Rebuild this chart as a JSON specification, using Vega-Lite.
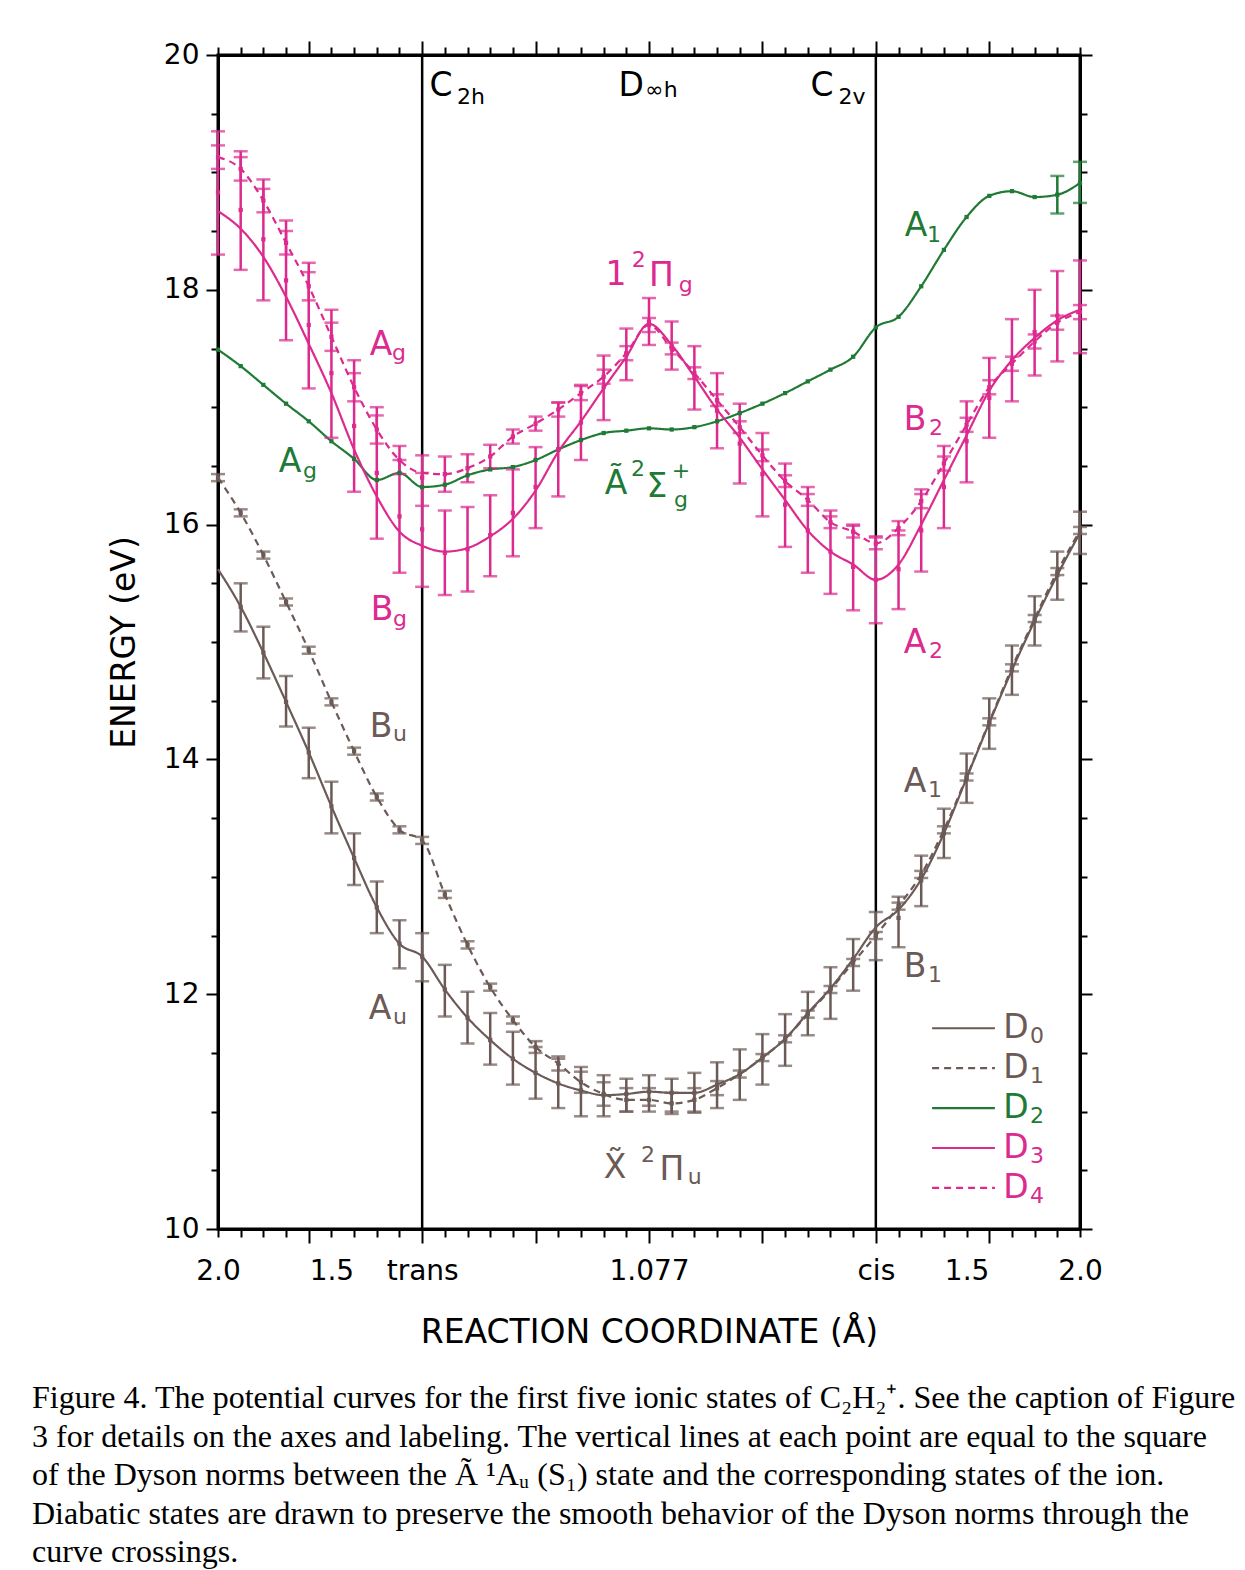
{
  "$schema": "https://vega.github.io/schema/vega-lite/v6.json",
  "width": 862,
  "height": 1174,
  "autosize": {"type": "none"},
  "padding": {"left": 218, "top": 55, "right": 165, "bottom": 341},
  "background": "white",
  "config": {
    "view": {"stroke": "black", "strokeWidth": 3},
    "axis": {"grid": false, "domainColor": "black", "domainWidth": 3, "tickColor": "black", "tickWidth": 2, "labelColor": "black", "titleColor": "black", "labelFont": "DejaVu Sans", "titleFont": "DejaVu Sans", "labelFontSize": 28, "titleFontSize": 33, "titleFontWeight": "normal", "labelOverlap": false, "labelFlush": false, "labelBound": false}
  },
  "title": {
    "text": [
      "Figure 4. The potential curves for the first five ionic states of C₂H₂⁺. See the caption of Figure",
      "3 for details on the axes and labeling. The vertical lines at each point are equal to the square",
      "of the Dyson norms between the Ã ¹Aᵤ (S₁) state and the corresponding states of the ion.",
      "Diabatic states are drawn to preserve the smooth behavior of the Dyson norms through the",
      "curve crossings."
    ],
    "orient": "bottom",
    "anchor": "start",
    "frame": "group",
    "align": "left",
    "dx": -186,
    "offset": 34,
    "font": "Liberation Serif",
    "fontSize": 32,
    "fontWeight": "normal",
    "lineHeight": 38.5,
    "color": "black"
  },
  "datasets": {
    "curves": [
      {"s":"D0","x":0,"y":15.62},
      {"s":"D0","x":1,"y":15.30,"c":15.30,"lo":15.09,"hi":15.50},
      {"s":"D0","x":2,"y":14.91,"c":14.91,"lo":14.69,"hi":15.13},
      {"s":"D0","x":3,"y":14.49,"c":14.49,"lo":14.28,"hi":14.71},
      {"s":"D0","x":4,"y":14.06,"c":14.06,"lo":13.84,"hi":14.27},
      {"s":"D0","x":5,"y":13.60,"c":13.60,"lo":13.37,"hi":13.81},
      {"s":"D0","x":6,"y":13.16,"c":13.16,"lo":12.93,"hi":13.37},
      {"s":"D0","x":7,"y":12.74,"c":12.74,"lo":12.52,"hi":12.96},
      {"s":"D0","x":8,"y":12.43,"c":12.43,"lo":12.22,"hi":12.63},
      {"s":"D0","x":9,"y":12.32,"c":12.32,"lo":12.11,"hi":12.52},
      {"s":"D0","x":10,"y":12.04,"c":12.04,"lo":11.81,"hi":12.25},
      {"s":"D0","x":11,"y":11.80,"c":11.80,"lo":11.58,"hi":12.02},
      {"s":"D0","x":12,"y":11.61,"c":11.61,"lo":11.40,"hi":11.84},
      {"s":"D0","x":13,"y":11.45,"c":11.45,"lo":11.23,"hi":11.68},
      {"s":"D0","x":14,"y":11.33,"c":11.33,"lo":11.11,"hi":11.55},
      {"s":"D0","x":15,"y":11.24,"c":11.24,"lo":11.03,"hi":11.45},
      {"s":"D0","x":16,"y":11.18,"c":11.18,"lo":10.96,"hi":11.38},
      {"s":"D0","x":17,"y":11.14,"c":11.14,"lo":10.96,"hi":11.31},
      {"s":"D0","x":18,"y":11.15,"c":11.15,"lo":11.00,"hi":11.28},
      {"s":"D0","x":19,"y":11.17,"c":11.17,"lo":11.05,"hi":11.31},
      {"s":"D0","x":20,"y":11.16,"c":11.16,"lo":11.00,"hi":11.28},
      {"s":"D0","x":21,"y":11.16,"c":11.16,"lo":10.99,"hi":11.33},
      {"s":"D0","x":22,"y":11.23,"c":11.23,"lo":11.03,"hi":11.42},
      {"s":"D0","x":23,"y":11.32,"c":11.32,"lo":11.10,"hi":11.53},
      {"s":"D0","x":24,"y":11.46,"c":11.46,"lo":11.23,"hi":11.66},
      {"s":"D0","x":25,"y":11.62,"c":11.62,"lo":11.39,"hi":11.83},
      {"s":"D0","x":26,"y":11.84,"c":11.84,"lo":11.65,"hi":12.02},
      {"s":"D0","x":27,"y":12.05,"c":12.05,"lo":11.79,"hi":12.23},
      {"s":"D0","x":28,"y":12.30,"c":12.30,"lo":12.03,"hi":12.47},
      {"s":"D0","x":29,"y":12.57,"c":12.50,"lo":12.29,"hi":12.70},
      {"s":"D0","x":30,"y":12.72,"c":12.65,"lo":12.40,"hi":12.83},
      {"s":"D0","x":31,"y":12.98,"c":12.97,"lo":12.75,"hi":13.18},
      {"s":"D0","x":32,"y":13.37,"c":13.37,"lo":13.16,"hi":13.58},
      {"s":"D0","x":33,"y":13.84,"c":13.84,"lo":13.63,"hi":14.05},
      {"s":"D0","x":34,"y":14.31,"c":14.31,"lo":14.09,"hi":14.52},
      {"s":"D0","x":35,"y":14.76,"c":14.76,"lo":14.55,"hi":14.97},
      {"s":"D0","x":36,"y":15.18,"c":15.18,"lo":14.97,"hi":15.39},
      {"s":"D0","x":37,"y":15.57,"c":15.57,"lo":15.36,"hi":15.77},
      {"s":"D0","x":38,"y":15.93,"c":15.93,"lo":15.75,"hi":16.11},

      {"s":"D1","x":0,"y":16.40,"c":16.40,"lo":16.37,"hi":16.43},
      {"s":"D1","x":1,"y":16.10,"c":16.10,"lo":16.07,"hi":16.13},
      {"s":"D1","x":2,"y":15.74,"c":15.74,"lo":15.71,"hi":15.77},
      {"s":"D1","x":3,"y":15.34,"c":15.34,"lo":15.31,"hi":15.37},
      {"s":"D1","x":4,"y":14.93,"c":14.93,"lo":14.90,"hi":14.96},
      {"s":"D1","x":5,"y":14.49,"c":14.49,"lo":14.46,"hi":14.52},
      {"s":"D1","x":6,"y":14.07,"c":14.07,"lo":14.04,"hi":14.10},
      {"s":"D1","x":7,"y":13.68,"c":13.68,"lo":13.65,"hi":13.71},
      {"s":"D1","x":8,"y":13.40,"c":13.40,"lo":13.37,"hi":13.43},
      {"s":"D1","x":9,"y":13.31,"c":13.31,"lo":13.28,"hi":13.34},
      {"s":"D1","x":10,"y":12.85,"c":12.85,"lo":12.82,"hi":12.88},
      {"s":"D1","x":11,"y":12.42,"c":12.42,"lo":12.39,"hi":12.45},
      {"s":"D1","x":12,"y":12.06,"c":12.06,"lo":12.03,"hi":12.09},
      {"s":"D1","x":13,"y":11.78,"c":11.78,"lo":11.75,"hi":11.81},
      {"s":"D1","x":14,"y":11.55,"c":11.55,"lo":11.50,"hi":11.60},
      {"s":"D1","x":15,"y":11.41,"c":11.41,"lo":11.35,"hi":11.47},
      {"s":"D1","x":16,"y":11.25,"c":11.25,"lo":11.16,"hi":11.34},
      {"s":"D1","x":17,"y":11.15,"c":11.15,"lo":11.05,"hi":11.25},
      {"s":"D1","x":18,"y":11.10,"c":11.10,"lo":11.00,"hi":11.20},
      {"s":"D1","x":19,"y":11.10,"c":11.10,"lo":11.00,"hi":11.20},
      {"s":"D1","x":20,"y":11.07,"c":11.07,"lo":10.98,"hi":11.16},
      {"s":"D1","x":21,"y":11.10,"c":11.10,"lo":11.00,"hi":11.20},
      {"s":"D1","x":22,"y":11.20,"c":11.20,"lo":11.14,"hi":11.26},
      {"s":"D1","x":23,"y":11.32,"c":11.32,"lo":11.29,"hi":11.35},
      {"s":"D1","x":24,"y":11.46,"c":11.46,"lo":11.43,"hi":11.49},
      {"s":"D1","x":25,"y":11.62,"c":11.62,"lo":11.59,"hi":11.65},
      {"s":"D1","x":26,"y":11.83,"c":11.83,"lo":11.80,"hi":11.86},
      {"s":"D1","x":27,"y":12.04,"c":12.04,"lo":12.01,"hi":12.07},
      {"s":"D1","x":28,"y":12.27,"c":12.27,"lo":12.24,"hi":12.30},
      {"s":"D1","x":29,"y":12.50,"c":12.50,"lo":12.47,"hi":12.53},
      {"s":"D1","x":30,"y":12.75,"c":12.75,"lo":12.72,"hi":12.78},
      {"s":"D1","x":31,"y":13.02,"c":13.02,"lo":12.99,"hi":13.05},
      {"s":"D1","x":32,"y":13.40,"c":13.40,"lo":13.37,"hi":13.43},
      {"s":"D1","x":33,"y":13.85,"c":13.85,"lo":13.82,"hi":13.88},
      {"s":"D1","x":34,"y":14.32,"c":14.32,"lo":14.29,"hi":14.35},
      {"s":"D1","x":35,"y":14.78,"c":14.78,"lo":14.75,"hi":14.81},
      {"s":"D1","x":36,"y":15.20,"c":15.20,"lo":15.17,"hi":15.23},
      {"s":"D1","x":37,"y":15.60,"c":15.60,"lo":15.57,"hi":15.63},
      {"s":"D1","x":38,"y":15.95,"c":15.95,"lo":15.92,"hi":15.98},

      {"s":"D2","x":0,"y":17.49,"c":17.49},
      {"s":"D2","x":1,"y":17.35,"c":17.35},
      {"s":"D2","x":2,"y":17.19,"c":17.19},
      {"s":"D2","x":3,"y":17.03,"c":17.03},
      {"s":"D2","x":4,"y":16.88,"c":16.88},
      {"s":"D2","x":5,"y":16.71,"c":16.71},
      {"s":"D2","x":6,"y":16.56,"c":16.56},
      {"s":"D2","x":7,"y":16.38,"c":16.38},
      {"s":"D2","x":8,"y":16.44,"c":16.44},
      {"s":"D2","x":9,"y":16.32,"c":16.32},
      {"s":"D2","x":10,"y":16.34,"c":16.34},
      {"s":"D2","x":11,"y":16.42,"c":16.42},
      {"s":"D2","x":12,"y":16.47,"c":16.47},
      {"s":"D2","x":13,"y":16.49,"c":16.49},
      {"s":"D2","x":14,"y":16.55,"c":16.55},
      {"s":"D2","x":15,"y":16.64,"c":16.64},
      {"s":"D2","x":16,"y":16.72,"c":16.72},
      {"s":"D2","x":17,"y":16.78,"c":16.78},
      {"s":"D2","x":18,"y":16.80,"c":16.80},
      {"s":"D2","x":19,"y":16.82,"c":16.82},
      {"s":"D2","x":20,"y":16.81,"c":16.81},
      {"s":"D2","x":21,"y":16.83,"c":16.83},
      {"s":"D2","x":22,"y":16.88,"c":16.88},
      {"s":"D2","x":23,"y":16.95,"c":16.95},
      {"s":"D2","x":24,"y":17.03,"c":17.03},
      {"s":"D2","x":25,"y":17.12,"c":17.12},
      {"s":"D2","x":26,"y":17.22,"c":17.22},
      {"s":"D2","x":27,"y":17.32,"c":17.32},
      {"s":"D2","x":28,"y":17.43,"c":17.43},
      {"s":"D2","x":29,"y":17.68,"c":17.68},
      {"s":"D2","x":30,"y":17.77,"c":17.77},
      {"s":"D2","x":31,"y":18.03,"c":18.03},
      {"s":"D2","x":32,"y":18.34,"c":18.34},
      {"s":"D2","x":33,"y":18.62,"c":18.62},
      {"s":"D2","x":34,"y":18.80,"c":18.80},
      {"s":"D2","x":35,"y":18.84,"c":18.84},
      {"s":"D2","x":36,"y":18.79,"c":18.79},
      {"s":"D2","x":37,"y":18.81,"c":18.81,"lo":18.65,"hi":18.97},
      {"s":"D2","x":38,"y":18.91,"c":18.91,"lo":18.74,"hi":19.09},

      {"s":"D3","x":0,"y":18.67,"c":18.83,"lo":18.30,"hi":19.35},
      {"s":"D3","x":1,"y":18.52,"c":18.68,"lo":18.17,"hi":19.18},
      {"s":"D3","x":2,"y":18.28,"c":18.43,"lo":17.91,"hi":18.94},
      {"s":"D3","x":3,"y":17.94,"c":18.08,"lo":17.57,"hi":18.59},
      {"s":"D3","x":4,"y":17.54,"c":17.70,"lo":17.16,"hi":18.23},
      {"s":"D3","x":5,"y":17.12,"c":17.29,"lo":16.74,"hi":17.83},
      {"s":"D3","x":6,"y":16.64,"c":16.84,"lo":16.28,"hi":17.40},
      {"s":"D3","x":7,"y":16.24,"c":16.44,"lo":15.88,"hi":17.00},
      {"s":"D3","x":8,"y":15.94,"c":16.07,"lo":15.59,"hi":16.55},
      {"s":"D3","x":9,"y":15.82,"c":15.96,"lo":15.47,"hi":16.44},
      {"s":"D3","x":10,"y":15.77,"c":15.76,"lo":15.40,"hi":16.12},
      {"s":"D3","x":11,"y":15.80,"c":15.79,"lo":15.43,"hi":16.15},
      {"s":"D3","x":12,"y":15.90,"c":15.91,"lo":15.56,"hi":16.25},
      {"s":"D3","x":13,"y":16.05,"c":16.10,"lo":15.73,"hi":16.47},
      {"s":"D3","x":14,"y":16.29,"c":16.32,"lo":15.97,"hi":16.66},
      {"s":"D3","x":15,"y":16.62,"c":16.64,"lo":16.24,"hi":17.04},
      {"s":"D3","x":16,"y":16.88,"c":16.87,"lo":16.55,"hi":17.19},
      {"s":"D3","x":17,"y":17.16,"c":17.17,"lo":16.89,"hi":17.44},
      {"s":"D3","x":18,"y":17.43,"c":17.45,"lo":17.23,"hi":17.67},
      {"s":"D3","x":19,"y":17.71,"c":17.73,"lo":17.53,"hi":17.93},
      {"s":"D3","x":20,"y":17.53,"c":17.52,"lo":17.32,"hi":17.73},
      {"s":"D3","x":21,"y":17.26,"c":17.25,"lo":16.98,"hi":17.52},
      {"s":"D3","x":22,"y":16.98,"c":16.97,"lo":16.65,"hi":17.29},
      {"s":"D3","x":23,"y":16.74,"c":16.69,"lo":16.35,"hi":17.03},
      {"s":"D3","x":24,"y":16.47,"c":16.43,"lo":16.07,"hi":16.78},
      {"s":"D3","x":25,"y":16.21,"c":16.17,"lo":15.81,"hi":16.52},
      {"s":"D3","x":26,"y":15.95,"c":15.95,"lo":15.59,"hi":16.32},
      {"s":"D3","x":27,"y":15.77,"c":15.77,"lo":15.41,"hi":16.12},
      {"s":"D3","x":28,"y":15.66,"c":15.64,"lo":15.27,"hi":16.00},
      {"s":"D3","x":29,"y":15.53,"c":15.53,"lo":15.16,"hi":15.90},
      {"s":"D3","x":30,"y":15.66,"c":15.62,"lo":15.28,"hi":15.95},
      {"s":"D3","x":31,"y":16.00,"c":15.95,"lo":15.60,"hi":16.30},
      {"s":"D3","x":32,"y":16.38,"c":16.32,"lo":15.97,"hi":16.67},
      {"s":"D3","x":33,"y":16.76,"c":16.71,"lo":16.36,"hi":17.05},
      {"s":"D3","x":34,"y":17.14,"c":17.08,"lo":16.74,"hi":17.42},
      {"s":"D3","x":35,"y":17.40,"c":17.40,"lo":17.05,"hi":17.75},
      {"s":"D3","x":36,"y":17.59,"c":17.64,"lo":17.27,"hi":18.00},
      {"s":"D3","x":37,"y":17.74,"c":17.78,"lo":17.39,"hi":18.16},
      {"s":"D3","x":38,"y":17.83,"c":17.86,"lo":17.46,"hi":18.25},

      {"s":"D4","x":0,"y":19.13,"c":19.13,"lo":19.03,"hi":19.23},
      {"s":"D4","x":1,"y":19.03,"c":19.03,"lo":18.93,"hi":19.13},
      {"s":"D4","x":2,"y":18.76,"c":18.76,"lo":18.66,"hi":18.86},
      {"s":"D4","x":3,"y":18.40,"c":18.40,"lo":18.30,"hi":18.50},
      {"s":"D4","x":4,"y":18.03,"c":18.03,"lo":17.91,"hi":18.15},
      {"s":"D4","x":5,"y":17.60,"c":17.60,"lo":17.48,"hi":17.72},
      {"s":"D4","x":6,"y":17.17,"c":17.17,"lo":17.05,"hi":17.29},
      {"s":"D4","x":7,"y":16.81,"c":16.81,"lo":16.69,"hi":16.93},
      {"s":"D4","x":8,"y":16.55,"c":16.55,"lo":16.43,"hi":16.67},
      {"s":"D4","x":9,"y":16.44,"c":16.40,"lo":16.16,"hi":16.59},
      {"s":"D4","x":10,"y":16.43,"c":16.43,"lo":16.28,"hi":16.58},
      {"s":"D4","x":11,"y":16.48,"c":16.48,"lo":16.36,"hi":16.60},
      {"s":"D4","x":12,"y":16.58,"c":16.58,"lo":16.48,"hi":16.68},
      {"s":"D4","x":13,"y":16.75,"c":16.75,"lo":16.69,"hi":16.81},
      {"s":"D4","x":14,"y":16.86,"c":16.86,"lo":16.80,"hi":16.92},
      {"s":"D4","x":15,"y":16.98,"c":16.98,"lo":16.92,"hi":17.04},
      {"s":"D4","x":16,"y":17.12,"c":17.12,"lo":17.06,"hi":17.18},
      {"s":"D4","x":17,"y":17.26,"c":17.26,"lo":17.20,"hi":17.32},
      {"s":"D4","x":18,"y":17.46,"c":17.46,"lo":17.40,"hi":17.52},
      {"s":"D4","x":19,"y":17.70,"c":17.70,"lo":17.64,"hi":17.76},
      {"s":"D4","x":20,"y":17.50,"c":17.50,"lo":17.45,"hi":17.55},
      {"s":"D4","x":21,"y":17.29,"c":17.29,"lo":17.24,"hi":17.34},
      {"s":"D4","x":22,"y":17.06,"c":17.06,"lo":17.01,"hi":17.11},
      {"s":"D4","x":23,"y":16.83,"c":16.83,"lo":16.78,"hi":16.88},
      {"s":"D4","x":24,"y":16.59,"c":16.59,"lo":16.54,"hi":16.64},
      {"s":"D4","x":25,"y":16.37,"c":16.37,"lo":16.32,"hi":16.42},
      {"s":"D4","x":26,"y":16.21,"c":16.21,"lo":16.16,"hi":16.26},
      {"s":"D4","x":27,"y":16.02,"c":16.02,"lo":15.97,"hi":16.07},
      {"s":"D4","x":28,"y":15.94,"c":15.94,"lo":15.89,"hi":15.99},
      {"s":"D4","x":29,"y":15.84,"c":15.84,"lo":15.79,"hi":15.89},
      {"s":"D4","x":30,"y":15.97,"c":15.97,"lo":15.91,"hi":16.03},
      {"s":"D4","x":31,"y":16.20,"c":16.20,"lo":16.14,"hi":16.26},
      {"s":"D4","x":32,"y":16.52,"c":16.52,"lo":16.46,"hi":16.58},
      {"s":"D4","x":33,"y":16.85,"c":16.85,"lo":16.79,"hi":16.91},
      {"s":"D4","x":34,"y":17.17,"c":17.17,"lo":17.11,"hi":17.23},
      {"s":"D4","x":35,"y":17.37,"c":17.37,"lo":17.31,"hi":17.43},
      {"s":"D4","x":36,"y":17.56,"c":17.56,"lo":17.50,"hi":17.62},
      {"s":"D4","x":37,"y":17.72,"c":17.72,"lo":17.66,"hi":17.78},
      {"s":"D4","x":38,"y":17.81,"c":17.81,"lo":17.75,"hi":17.87}
    ],
    "labels": [
      {"t":"C","x":9.83,"y":19.74,"s":"K","k":"m"},
      {"t":"2h","x":11.15,"y":19.64,"s":"K","k":"s"},
      {"t":"D","x":18.21,"y":19.74,"s":"K","k":"m"},
      {"t":"∞h","x":19.55,"y":19.70,"s":"K","k":"s"},
      {"t":"C","x":26.63,"y":19.74,"s":"K","k":"m"},
      {"t":"2v","x":27.95,"y":19.64,"s":"K","k":"s"},
      {"t":"A","x":30.77,"y":18.54,"s":"D2","k":"m"},
      {"t":"1","x":31.56,"y":18.47,"s":"D2","k":"s"},
      {"t":"1","x":17.55,"y":18.13,"s":"D3","k":"m"},
      {"t":"2","x":18.55,"y":18.25,"s":"D3","k":"s"},
      {"t":"Π","x":19.55,"y":18.12,"s":"D3","k":"m"},
      {"t":"g","x":20.62,"y":18.04,"s":"D3","k":"s"},
      {"t":"A","x":7.19,"y":17.53,"s":"D3","k":"m"},
      {"t":"g","x":7.98,"y":17.46,"s":"D3","k":"s"},
      {"t":"A","x":3.17,"y":16.53,"s":"D2","k":"m"},
      {"t":"g","x":4.06,"y":16.46,"s":"D2","k":"s"},
      {"t":"B","x":30.73,"y":16.89,"s":"D3","k":"m"},
      {"t":"2","x":31.65,"y":16.82,"s":"D3","k":"s"},
      {"t":"Ã","x":17.55,"y":16.35,"s":"D2","k":"m"},
      {"t":"2","x":18.52,"y":16.47,"s":"D2","k":"s"},
      {"t":"Σ","x":19.35,"y":16.32,"s":"D2","k":"m"},
      {"t":"+","x":20.41,"y":16.46,"s":"D2","k":"s"},
      {"t":"g","x":20.41,"y":16.21,"s":"D2","k":"s"},
      {"t":"B","x":7.23,"y":15.27,"s":"D3","k":"m"},
      {"t":"g","x":8.02,"y":15.20,"s":"D3","k":"s"},
      {"t":"A","x":30.73,"y":14.99,"s":"D3","k":"m"},
      {"t":"2","x":31.65,"y":14.92,"s":"D3","k":"s"},
      {"t":"B","x":7.19,"y":14.28,"s":"D0","k":"m"},
      {"t":"u","x":8.02,"y":14.22,"s":"D0","k":"s"},
      {"t":"A","x":30.73,"y":13.81,"s":"D0","k":"m"},
      {"t":"1","x":31.61,"y":13.74,"s":"D0","k":"s"},
      {"t":"B","x":30.73,"y":12.23,"s":"D0","k":"m"},
      {"t":"1","x":31.61,"y":12.16,"s":"D0","k":"s"},
      {"t":"A","x":7.14,"y":11.87,"s":"D0","k":"m"},
      {"t":"u","x":8.02,"y":11.81,"s":"D0","k":"s"},
      {"t":"X̃","x":17.50,"y":10.52,"s":"D0","k":"m"},
      {"t":"2","x":18.96,"y":10.63,"s":"D0","k":"s"},
      {"t":"Π","x":20.01,"y":10.50,"s":"D0","k":"m"},
      {"t":"u","x":21.02,"y":10.44,"s":"D0","k":"s"},
      {"t":"D","x":35.18,"y":11.71,"s":"D0","k":"m"},
      {"t":"0","x":36.10,"y":11.64,"s":"D0","k":"s"},
      {"t":"D","x":35.18,"y":11.37,"s":"D1","k":"m"},
      {"t":"1","x":36.10,"y":11.30,"s":"D1","k":"s"},
      {"t":"D","x":35.18,"y":11.03,"s":"D2","k":"m"},
      {"t":"2","x":36.10,"y":10.96,"s":"D2","k":"s"},
      {"t":"D","x":35.18,"y":10.69,"s":"D3","k":"m"},
      {"t":"3","x":36.10,"y":10.62,"s":"D3","k":"s"},
      {"t":"D","x":35.18,"y":10.35,"s":"D4","k":"m"},
      {"t":"4","x":36.10,"y":10.28,"s":"D4","k":"s"}
    ],
    "legend": [
      {"s":"D0","x":31.48,"x2":34.25,"y":11.71},
      {"s":"D1","x":31.48,"x2":34.25,"y":11.37},
      {"s":"D2","x":31.48,"x2":34.25,"y":11.03},
      {"s":"D3","x":31.48,"x2":34.25,"y":10.69},
      {"s":"D4","x":31.48,"x2":34.25,"y":10.35}
    ],
    "vlines": [{"x":9},{"x":29}]
  },
  "resolve": {"axis": {"x": "independent", "y": "independent"}},
  "layer": [
    {
      "data": {"name": "vlines"},
      "mark": {"type": "rule", "color": "black", "strokeWidth": 2.5},
      "encoding": {
        "x": {"field": "x", "type": "quantitative", "axis": null, "scale": {"domain": [0, 38], "nice": false, "zero": false}}
      }
    },
    {
      "data": {"name": "curves"},
      "mark": {"type": "line", "interpolate": "monotone", "strokeWidth": 2.2, "clip": false},
      "encoding": {
        "x": {"field": "x", "type": "quantitative", "scale": {"domain": [0, 38], "nice": false, "zero": false},
          "axis": {"orient": "bottom", "values": [0,1,2,3,4,5,6,7,8,9,10,11,12,13,14,15,16,17,18,19,20,21,22,23,24,25,26,27,28,29,30,31,32,33,34,35,36,37,38],
            "tickSize": {"condition": {"test": "(datum.value + 1) % 5 == 0", "value": 14}, "value": 8},
            "labelPadding": {"condition": {"test": "(datum.value + 1) % 5 == 0", "value": 14}, "value": 20},
            "labelExpr": "datum.value == 0 ? '2.0' : datum.value == 5 ? '1.5' : datum.value == 9 ? 'trans' : datum.value == 19 ? '1.077' : datum.value == 29 ? 'cis' : datum.value == 33 ? '1.5' : datum.value == 38 ? '2.0' : ''",
            "title": "REACTION COORDINATE  (Å)", "titlePadding": 31}},
        "y": {"field": "y", "type": "quantitative", "scale": {"domain": [10, 20], "nice": false, "zero": false},
          "axis": {"orient": "left", "values": [10,10.5,11,11.5,12,12.5,13,13.5,14,14.5,15,15.5,16,16.5,17,17.5,18,18.5,19,19.5,20],
            "tickSize": {"condition": {"test": "datum.value % 2 == 0", "value": 12}, "value": 7},
            "labelExpr": "datum.value % 2 == 0 ? format(datum.value, 'd') : ''",
            "labelPadding": 7, "title": "ENERGY (eV)", "titlePadding": 22}},
        "color": {"field": "s", "type": "nominal", "legend": null, "scale": {"domain": ["D0","D1","D2","D3","D4","K"], "range": ["#6b5a56","#6b5a56","#1f7a35","#dc2a8e","#dc2a8e","#000000"]}},
        "strokeDash": {"field": "s", "type": "nominal", "legend": null, "scale": {"domain": ["D0","D1","D2","D3","D4"], "range": [[1,0],[7,5],[1,0],[1,0],[7,5]]}},
        "detail": {"field": "s"}
      }
    },
    {
      "data": {"name": "curves"},
      "transform": [{"filter": "isValid(datum.lo)"}],
      "mark": {"type": "rule", "strokeWidth": 2.5},
      "encoding": {
        "x": {"field": "x", "type": "quantitative", "axis": null},
        "y": {"field": "lo", "type": "quantitative", "axis": null},
        "y2": {"field": "hi"},
        "color": {"field": "s", "type": "nominal", "legend": null}
      }
    },
    {
      "data": {"name": "curves"},
      "transform": [{"filter": "isValid(datum.lo)"}],
      "mark": {"type": "tick", "orient": "horizontal", "size": 14, "thickness": 2.5},
      "encoding": {
        "x": {"field": "x", "type": "quantitative", "axis": null},
        "y": {"field": "lo", "type": "quantitative", "axis": null},
        "color": {"field": "s", "type": "nominal", "legend": null}
      }
    },
    {
      "data": {"name": "curves"},
      "transform": [{"filter": "isValid(datum.hi)"}],
      "mark": {"type": "tick", "orient": "horizontal", "size": 14, "thickness": 2.5},
      "encoding": {
        "x": {"field": "x", "type": "quantitative", "axis": null},
        "y": {"field": "hi", "type": "quantitative", "axis": null},
        "color": {"field": "s", "type": "nominal", "legend": null}
      }
    },
    {
      "data": {"name": "curves"},
      "transform": [{"filter": "isValid(datum.c)"}],
      "mark": {"type": "point", "shape": "square", "filled": true, "size": 18, "opacity": 1},
      "encoding": {
        "x": {"field": "x", "type": "quantitative", "axis": null},
        "y": {"field": "c", "type": "quantitative", "axis": null},
        "color": {"field": "s", "type": "nominal", "legend": null}
      }
    },
    {
      "data": {"name": "legend"},
      "mark": {"type": "rule", "strokeWidth": 2.2},
      "encoding": {
        "x": {"field": "x", "type": "quantitative",
          "axis": {"orient": "top", "values": [0,1,2,3,4,5,6,7,8,9,10,11,12,13,14,15,16,17,18,19,20,21,22,23,24,25,26,27,28,29,30,31,32,33,34,35,36,37,38],
            "tickSize": {"condition": {"test": "(datum.value + 1) % 5 == 0", "value": 14}, "value": 8},
            "labels": false, "title": null}},
        "x2": {"field": "x2"},
        "y": {"field": "y", "type": "quantitative",
          "axis": {"orient": "right", "values": [10,10.5,11,11.5,12,12.5,13,13.5,14,14.5,15,15.5,16,16.5,17,17.5,18,18.5,19,19.5,20],
            "tickSize": {"condition": {"test": "datum.value % 2 == 0", "value": 12}, "value": 7},
            "labels": false, "title": null}},
        "color": {"field": "s", "type": "nominal", "legend": null},
        "strokeDash": {"field": "s", "type": "nominal", "legend": null}
      }
    },
    {
      "data": {"name": "labels"},
      "transform": [{"filter": "datum.k == 'm'"}],
      "mark": {"type": "text", "font": "DejaVu Sans", "fontSize": 33, "align": "center", "baseline": "middle"},
      "encoding": {
        "x": {"field": "x", "type": "quantitative", "axis": null},
        "y": {"field": "y", "type": "quantitative", "axis": null},
        "text": {"field": "t"},
        "color": {"field": "s", "type": "nominal", "legend": null}
      }
    },
    {
      "data": {"name": "labels"},
      "transform": [{"filter": "datum.k == 's'"}],
      "mark": {"type": "text", "font": "DejaVu Sans", "fontSize": 22, "align": "center", "baseline": "middle"},
      "encoding": {
        "x": {"field": "x", "type": "quantitative", "axis": null},
        "y": {"field": "y", "type": "quantitative", "axis": null},
        "text": {"field": "t"},
        "color": {"field": "s", "type": "nominal", "legend": null}
      }
    }
  ]
}
